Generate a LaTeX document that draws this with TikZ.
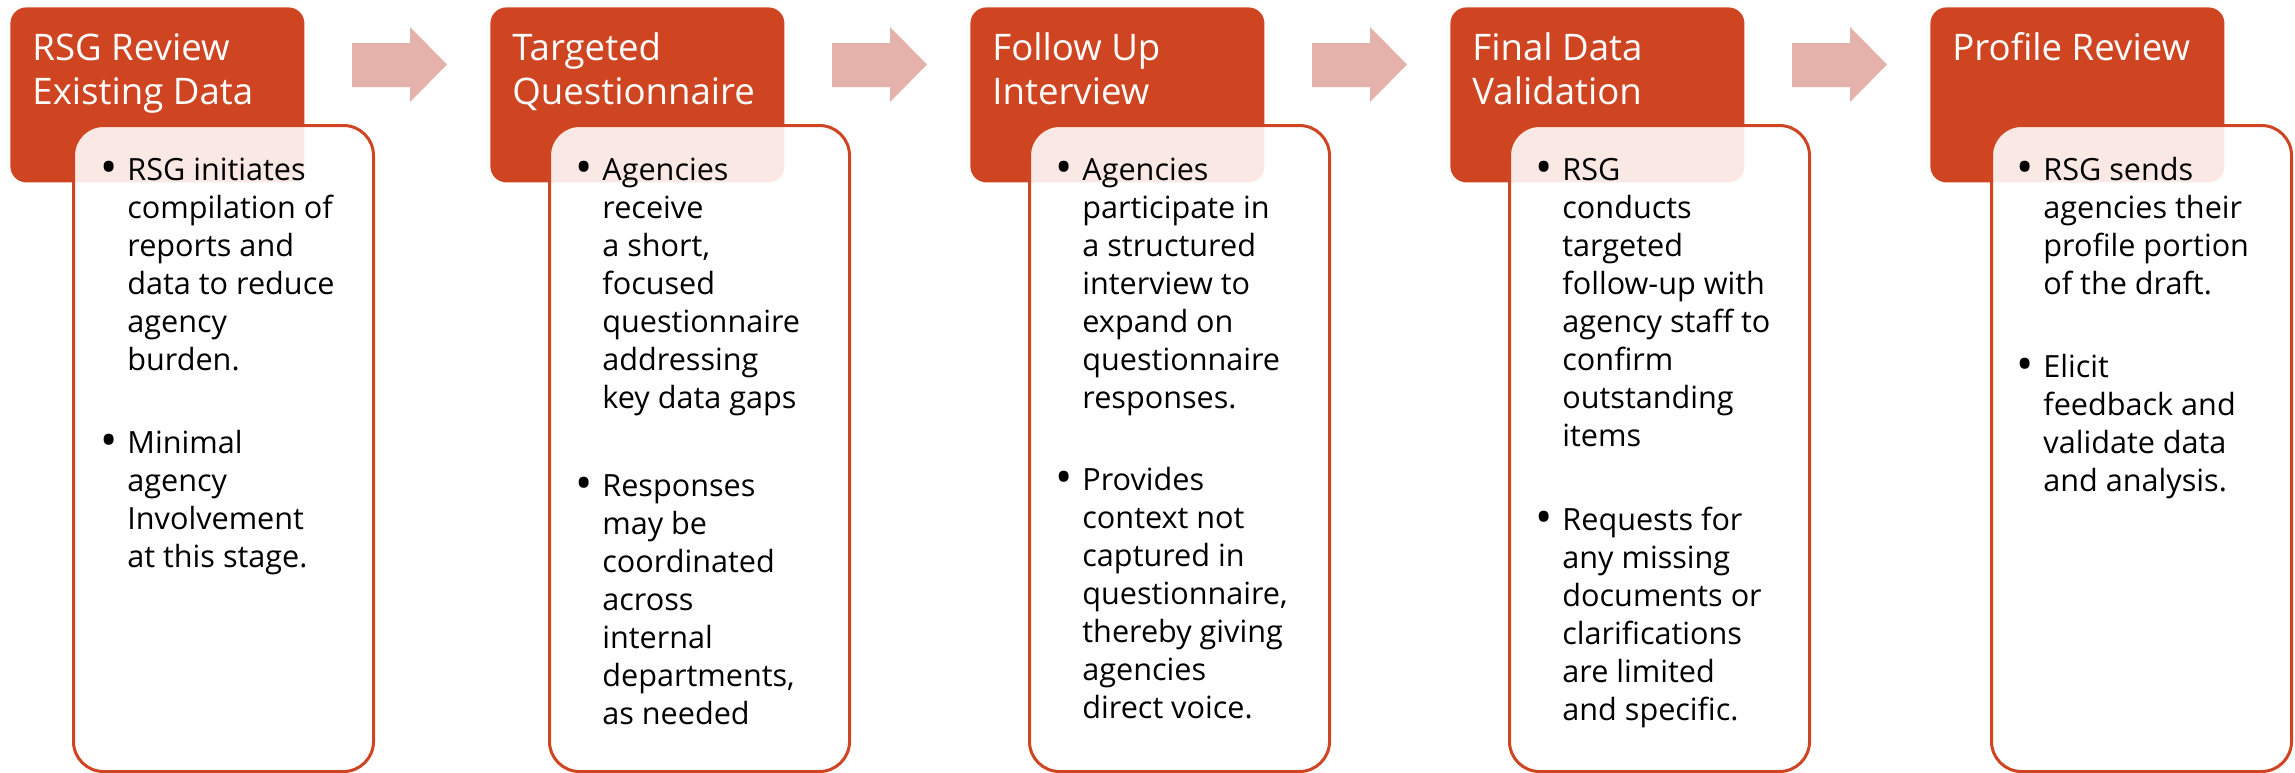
\documentclass[tikz,border=0pt]{standalone}
\usepackage{fontspec}
\setmainfont{Open Sans}
\definecolor{rsgorange}{RGB}{207,69,34}
\definecolor{arrowpink}{RGB}{229,177,171}
\newcommand\bulletmark{\llap{\raisebox{-0.13em}{\scalebox{1.5}{\textbullet}}\hspace{5pt}}}
\newcommand\stacklines[1]{\begin{tabular}[t]{@{}l@{}}#1\end{tabular}}

\begin{document}
\begin{tikzpicture}[x=0.5pt, y=-0.5pt,
    header/.style={rectangle, rounded corners=8pt, fill=rsgorange, minimum width=147pt, minimum height=87.5pt, anchor=north west, inner sep=0},
    panel/.style={rectangle, rounded corners=15pt, draw=rsgorange, line width=1.5pt, fill=white, fill opacity=0.88, minimum width=150pt, minimum height=323pt, anchor=north west, inner sep=0},
    title/.style={anchor=base west, inner sep=0, text=white, font=\fontsize{18.3}{22}\selectfont},
    bodytext/.style={anchor=base west, inner sep=0, font=\fontsize{15.3}{19}\selectfont},
    flowarrow/.style={fill=arrowpink}]
  \useasboundingbox (0,0) rectangle (2295,772);

  % step headers
  \node[header] (h1) at (10,7) {};
  \node[header] (h2) at (490,7) {};
  \node[header] (h3) at (970,7) {};
  \node[header] (h4) at (1450,7) {};
  \node[header] (h5) at (1930,7) {};

  % block arrows between the steps
  \foreach \s in {0,480,960,1440}
    \fill[flowarrow, xshift=\s*0.5pt] (352,43) -- (410,43) -- (410,27) -- (447,64.5) -- (410,102) -- (410,87) -- (352,87) -- cycle;

  % detail panels
  \node[panel] (p1) at (72,124) {};
  \node[panel] (p2) at (548,124) {};
  \node[panel] (p3) at (1028,124) {};
  \node[panel] (p4) at (1508,124) {};
  \node[panel] (p5) at (1990,124) {};

  % titles
  \node[title] (t1) at (32,60) {\stacklines{RSG Review\\Existing Data}};
  \node[title] (t2) at (512,60) {\stacklines{Targeted\\Questionnaire}};
  \node[title] (t3) at (992,60) {\stacklines{Follow Up\\Interview}};
  \node[title] (t4) at (1472,60) {\stacklines{Final Data\\Validation}};
  \node[title] (t5) at (1952,60) {\stacklines{Profile Review}};

  % bullets
  \node[bodytext] (b1a) at (127,180) {\bulletmark\stacklines{RSG initiates\\compilation of\\reports and\\data to reduce\\agency\\burden.}};
  \node[bodytext] (b1b) at (127,453) {\bulletmark\stacklines{Minimal\\agency\\Involvement\\at this stage.}};

  \node[bodytext] (b2a) at (602,180) {\bulletmark\stacklines{Agencies\\receive\\a short,\\focused\\questionnaire\\addressing\\key data gaps}};
  \node[bodytext] (b2b) at (602,496) {\bulletmark\stacklines{Responses\\may be\\coordinated\\across\\internal\\departments,\\as needed}};

  \node[bodytext] (b3a) at (1082,180) {\bulletmark\stacklines{Agencies\\participate in\\a structured\\interview to\\expand on\\questionnaire\\responses.}};
  \node[bodytext] (b3b) at (1082,490) {\bulletmark\stacklines{Provides\\context not\\captured in\\questionnaire,\\thereby giving\\agencies\\direct voice.}};

  \node[bodytext] (b4a) at (1562,180) {\bulletmark\stacklines{RSG\\conducts\\targeted\\follow-up with\\agency staff to\\confirm\\outstanding\\items}};
  \node[bodytext] (b4b) at (1562,530) {\bulletmark\stacklines{Requests for\\any missing\\documents or\\clarifications\\are limited\\and specific.}};

  \node[bodytext] (b5a) at (2043,180) {\bulletmark\stacklines{RSG sends\\agencies their\\profile portion\\of the draft.}};
  \node[bodytext] (b5b) at (2043,377) {\bulletmark\stacklines{Elicit\\feedback and\\validate data\\and analysis.}};
\end{tikzpicture}
\end{document}
